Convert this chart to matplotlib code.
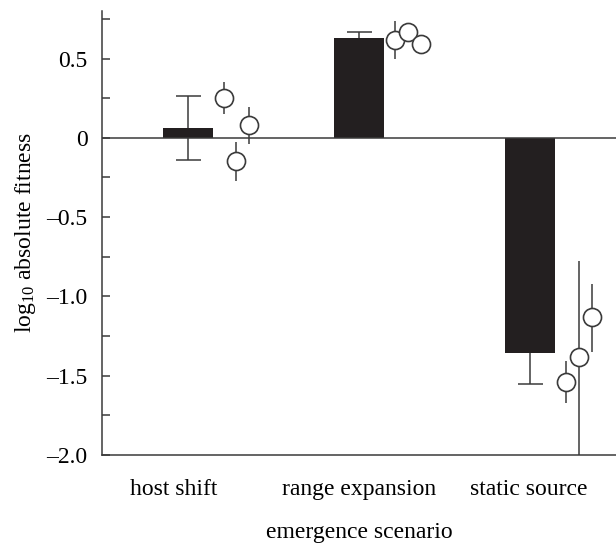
import matplotlib
matplotlib.use("Agg")
import matplotlib.pyplot as plt
from matplotlib.ticker import MultipleLocator, FuncFormatter
import numpy as np

plt.rcParams['font.family'] = ['Liberation Serif', 'DejaVu Serif']
plt.rcParams['mathtext.fontset'] = 'custom'
plt.rcParams['mathtext.rm'] = 'Liberation Serif'
plt.rcParams['mathtext.it'] = 'Liberation Serif:italic'

# data
scenarios = ['host shift', 'range expansion', 'static source']
bar_means = [0.063, 0.63, -1.355]
bar_err = [0.2, 0.04, 0.2]

# three populations per scenario: value, lower and upper error-bar ends
pop_values = [[0.25, -0.145, 0.08],
              [0.62, 0.67, 0.59],
              [-1.54, -1.385, -1.13]]
pop_low = [[0.15, -0.27, -0.04],
           [0.50, 0.65, 0.53],
           [-1.67, -2.05, -1.35]]
pop_high = [[0.35, -0.025, 0.195],
            [0.74, 0.69, 0.65],
            [-1.41, -0.775, -0.92]]

bar_color = '#231f20'
line_color = '#3a3a3a'
fs = 17

x = np.arange(1, len(scenarios) + 1)
offsets = [0.21, 0.285, 0.36]

fig = plt.figure(figsize=(6.16, 5.43), dpi=100)
ax = fig.add_axes([102 / 616, 1 - 455 / 543, 1 - 102 / 616, (455 - 11) / 543])

ax.errorbar(x, bar_means, yerr=bar_err, fmt='none', ecolor=line_color,
            elinewidth=1.1, capsize=9, capthick=1.1, zorder=1)
ax.bar(x, bar_means, width=0.29, color=bar_color, zorder=2)

for i, xi in enumerate(x):
    px = xi + np.array(offsets)
    vals = np.array(pop_values[i])
    lo = vals - np.array(pop_low[i])
    hi = np.array(pop_high[i]) - vals
    ax.errorbar(px, vals, yerr=[lo, hi], fmt='o', ms=13, mfc='white',
                mec=line_color, mew=1.2, ecolor=line_color, elinewidth=1.1,
                capsize=0, zorder=3)

ax.axhline(0, color=line_color, lw=1.1, zorder=2.5)

ax.set_xlim(0.5, 3.5)
ax.set_ylim(-2.0, 0.8)

ax.spines['top'].set_visible(False)
ax.spines['right'].set_visible(False)
for s in ['left', 'bottom']:
    ax.spines[s].set_color(line_color)
    ax.spines[s].set_linewidth(1.1)

ax.yaxis.set_major_locator(MultipleLocator(0.5))
ax.yaxis.set_minor_locator(MultipleLocator(0.25))
ax.yaxis.set_major_formatter(FuncFormatter(
    lambda v, p: '0' if abs(v) < 1e-9 else f'{v:.1f}'.replace('-', '\u2013')))
ax.tick_params(axis='y', which='both', direction='in', length=6, width=1.1,
               color=line_color, labelsize=fs, pad=10.5)

ax.set_xticks([0.92, 2.0, 2.99])
ax.set_xticklabels(scenarios)
ax.tick_params(axis='x', length=0, labelsize=fs, pad=17)

ax.set_xlabel('emergence scenario', fontsize=fs)
ax.xaxis.set_label_coords(0.5, -0.152)
ax.set_ylabel('log$_{10}$ absolute fitness', fontsize=fs)
ax.yaxis.set_label_coords(-0.125, 0.5)

fig.savefig('out.png', dpi=100)
